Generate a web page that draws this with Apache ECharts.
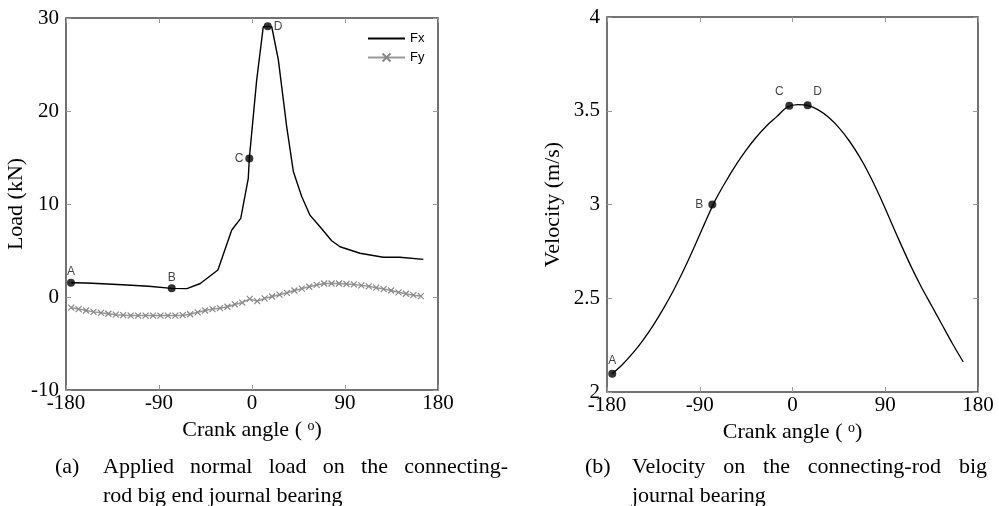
<!DOCTYPE html>
<html>
<head>
<meta charset="utf-8">
<title>Connecting-rod big end bearing: load and velocity</title>
<script src="https://cdn.jsdelivr.net/npm/echarts@6/dist/echarts.min.js"></script>
<style>
  html, body { margin: 0; padding: 0; background: #fff; }
  #chart { width: 999px; height: 506px; }
</style>
</head>
<body>
<div id="chart"></div>
<script>
// (a) applied normal load, kN
const fxAngle = [-175.2, -160, -140, -121, -100, -77.7, -63, -50, -33, -19.6, -10.9, -3.6, -2.6, 4.5, 10.9, 15.2, 19.1, 25.5, 33.6, 40, 48.1, 56.1, 65.8, 77.1, 85.2, 104.5, 127, 143, 165.8];
const fxLoad = [1.54, 1.5, 1.4, 1.29, 1.15, 0.93, 0.9, 1.45, 2.9, 7.2, 8.46, 12.76, 14.9, 23.3, 29.06, 29.1, 29.06, 25.5, 18.3, 13.5, 10.8, 8.8, 7.56, 6.05, 5.4, 4.7, 4.27, 4.27, 4.05];

const fyAngle = [-175, -167.8, -160.6, -153.4, -146.2, -139, -131.8, -124.6, -117.4, -110.2, -103, -95.8, -88.6, -81.4, -74.2, -67, -59.8, -52.6, -45.4, -38.2, -31, -23.8, -16.6, -9.4, -2.2, 5, 12.2, 19.4, 26.6, 33.8, 41, 48.2, 55.4, 62.6, 69.8, 77, 84.2, 91.4, 98.6, 105.8, 113, 120.2, 127.4, 134.6, 141.8, 149, 156.2, 163.4];
const fyLoad = [-1.15, -1.3, -1.45, -1.6, -1.7, -1.8, -1.9, -1.95, -2.0, -2.0, -2.0, -2.0, -2.0, -2.0, -2.0, -1.95, -1.85, -1.65, -1.45, -1.3, -1.2, -1.05, -0.8, -0.6, -0.2, -0.45, -0.15, 0.05, 0.25, 0.45, 0.7, 0.9, 1.1, 1.3, 1.45, 1.45, 1.45, 1.4, 1.35, 1.25, 1.15, 1.0, 0.85, 0.7, 0.5, 0.35, 0.2, 0.1];

const loadPointNames = ['A', 'B', 'C', 'D'];
const loadPointAngle = [-175.2, -77.7, -2.6, 15.2];
const loadPointValue = [1.54, 0.93, 14.9, 29.1];

// (b) sliding velocity, m/s
const velAngle = [-175, -165, -155, -145, -135, -125, -115, -105, -95, -85, -75, -65, -55, -45, -35, -25, -15, -5, 5, 14.7, 25, 35, 45, 55, 65, 75, 85, 95, 105, 115, 125, 135, 145, 155, 165.7];
const velValue = [2.097, 2.147, 2.207, 2.277, 2.357, 2.447, 2.547, 2.657, 2.777, 2.902, 3.022, 3.12, 3.21, 3.29, 3.36, 3.42, 3.47, 3.52, 3.533, 3.529, 3.505, 3.465, 3.41, 3.34, 3.255, 3.155, 3.04, 2.915, 2.79, 2.67, 2.56, 2.46, 2.36, 2.26, 2.16];

const velPointNames = ['A', 'B', 'C', 'D'];
const velPointAngle = [-174.9, -77.8, -3.1, 14.7];
const velPointValue = [2.097, 3.0, 3.527, 3.529];

const angleTicks = [-180, 180, 90];   // min, max, interval
const loadTicks = [-10, 30, 10];
const velTicks = [2, 4, 0.5];

const captionA = ['Applied normal load on the connecting-', 'rod big end journal bearing'];
const captionB = ['Velocity on the connecting-rod big', 'journal bearing'];

const serif = '"Liberation Serif", "Times New Roman", serif';
const sans = '"Liberation Sans", Arial, sans-serif';

const zip = (xs, ys) => xs.map((x, i) => [x, ys[i]]);

function tickStyle() {
  return { inside: true, length: 5, lineStyle: { color: '#999', width: 1 } };
}

function xAxes(gridIndex) {
  const base = { type: 'value', gridIndex, min: angleTicks[0], max: angleTicks[1], interval: angleTicks[2], axisLine: { show: false, onZero: false }, splitLine: { show: false }, axisTick: tickStyle() };
  return [
    Object.assign({}, base, {
      position: 'bottom',
      name: 'Crank angle ( {sup|o})',
      nameLocation: 'middle',
      nameGap: 22,
      nameTextStyle: {
        fontFamily: serif, fontSize: 22, color: '#000',
        rich: { sup: { fontFamily: serif, fontSize: 14, color: '#000', verticalAlign: 'top' } }
      },
      axisLabel: { fontFamily: serif, fontSize: 21, color: '#000', margin: 3 }
    }),
    Object.assign({}, base, { position: 'top', axisLabel: { show: false } })
  ];
}

function yAxes(gridIndex, ticks, name, nameGap) {
  const base = { type: 'value', gridIndex, min: ticks[0], max: ticks[1], interval: ticks[2], axisLine: { show: false, onZero: false }, splitLine: { show: false }, axisTick: tickStyle() };
  return [
    Object.assign({}, base, {
      position: 'left',
      name,
      nameLocation: 'middle',
      nameGap,
      nameTextStyle: { fontFamily: serif, fontSize: 22, color: '#000' },
      axisLabel: { fontFamily: serif, fontSize: 21, color: '#000', margin: 7 }
    }),
    Object.assign({}, base, { position: 'right', axisLabel: { show: false } })
  ];
}

function pointSeries(xi, yi, names, xs, ys, labelPos) {
  return {
    type: 'scatter',
    xAxisIndex: xi,
    yAxisIndex: yi,
    symbol: 'circle',
    symbolSize: 8,
    z: 5,
    itemStyle: { color: '#000' },
    data: names.map((n, i) => ({
      name: n,
      value: [xs[i], ys[i]],
      label: Object.assign({ show: true, formatter: '{b}', fontFamily: sans, fontSize: 12, color: '#111' }, labelPos[i])
    }))
  };
}

// justified caption line, one text element per word
const measureCtx = document.createElement('canvas').getContext('2d');
measureCtx.font = '22px "Liberation Serif"';
function captionLine(text, x0, x1, y, justify) {
  const words = text.split(' ');
  const widths = words.map(w => measureCtx.measureText(w).width);
  const total = widths.reduce((a, b) => a + b, 0);
  const gap = justify ? (x1 - x0 - total) / (words.length - 1) : measureCtx.measureText(' ').width;
  let x = x0;
  return words.map((w, i) => {
    const el = { type: 'text', x, y, style: { text: w, font: '22px ' + serif, fill: '#000', verticalAlign: 'middle' } };
    x += widths[i] + gap;
    return el;
  });
}

const graphics = [
  { type: 'text', x: 55, y: 467, style: { text: '(a)', font: '22px ' + serif, fill: '#000', verticalAlign: 'middle' } },
  ...captionLine(captionA[0], 103, 508, 467, true),
  ...captionLine(captionA[1], 103, 508, 496, false),
  { type: 'text', x: 585, y: 467, style: { text: '(b)', font: '22px ' + serif, fill: '#000', verticalAlign: 'middle' } },
  ...captionLine(captionB[0], 632, 987, 467, true),
  ...captionLine(captionB[1], 632, 987, 496, false)
];

const chart = echarts.init(document.getElementById('chart'), null, { renderer: 'canvas' });

const option = {
  animation: false,
  backgroundColor: '#fff',
  grid: [
    { left: 66, top: 18, width: 372, height: 372, show: true, borderColor: '#444', borderWidth: 1.5, backgroundColor: 'transparent' },
    { left: 607, top: 17, width: 371, height: 375, show: true, borderColor: '#444', borderWidth: 1.5, backgroundColor: 'transparent' }
  ],
  xAxis: [...xAxes(0), ...xAxes(1)],
  yAxis: [...yAxes(0, loadTicks, 'Load (kN)', 32), ...yAxes(1, velTicks, 'Velocity (m/s)', 43)],
  legend: {
    data: [
      { name: 'Fx', itemStyle: { opacity: 0 } },
      { name: 'Fy' }
    ],
    orient: 'vertical',
    left: 362,
    top: 27,
    itemWidth: 37,
    itemHeight: 10,
    itemGap: 6,
    textStyle: { fontFamily: sans, fontSize: 13, color: '#000' }
  },
  series: [
    {
      name: 'Fx',
      type: 'line',
      xAxisIndex: 0,
      yAxisIndex: 0,
      symbol: 'none',
      data: zip(fxAngle, fxLoad),
      lineStyle: { color: '#000', width: 1.4 },
      itemStyle: { color: '#000' }
    },
    {
      name: 'Fy',
      type: 'line',
      xAxisIndex: 0,
      yAxisIndex: 0,
      symbol: 'path://M0,0L10,10M10,0L0,10',
      symbolSize: 6,
      showAllSymbol: true,
      data: zip(fyAngle, fyLoad),
      lineStyle: { color: '#999', width: 1.5 },
      itemStyle: { color: '#888', borderColor: '#888', borderWidth: 1.2 }
    },
    pointSeries(0, 0, loadPointNames, loadPointAngle, loadPointValue, [
      { position: 'top', distance: 1 },
      { position: 'top', distance: 1 },
      { position: 'left', distance: 2 },
      { position: 'right', distance: 2 }
    ]),
    {
      name: 'Velocity',
      type: 'line',
      xAxisIndex: 2,
      yAxisIndex: 2,
      symbol: 'none',
      smooth: 0.3,
      data: zip(velAngle, velValue),
      lineStyle: { color: '#000', width: 1.3 }
    },
    pointSeries(2, 2, velPointNames, velPointAngle, velPointValue, [
      { position: 'top', distance: 3 },
      { position: 'left', distance: 5 },
      { position: 'top', distance: 4, offset: [-10, 0] },
      { position: 'top', distance: 4, offset: [10, 0] }
    ])
  ],
  graphic: graphics
};

chart.setOption(option);
window.addEventListener('resize', () => chart.resize());
</script>
</body>
</html>
